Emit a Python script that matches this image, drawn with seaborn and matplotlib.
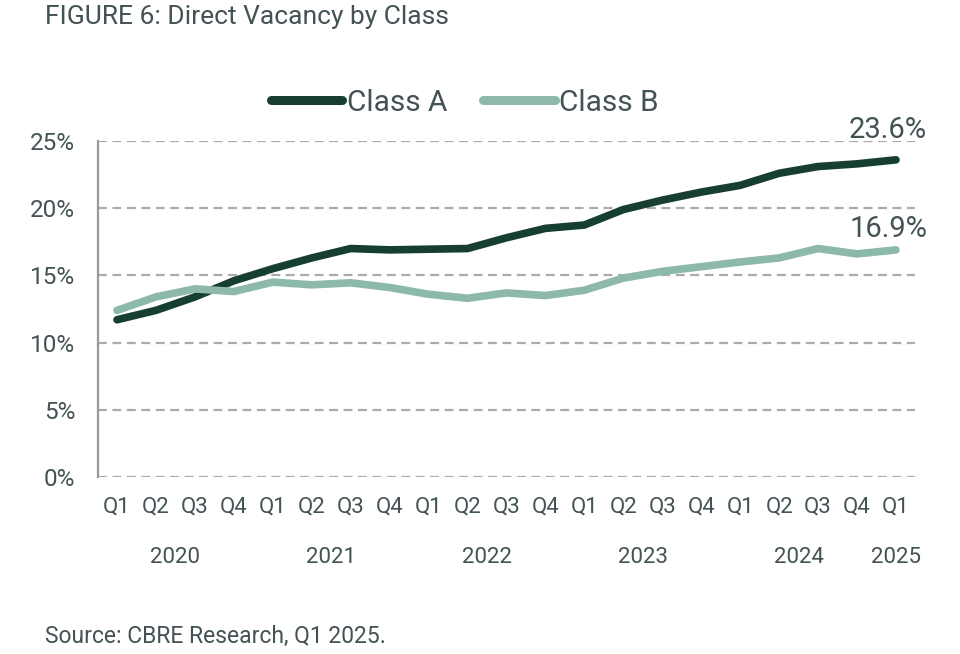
import matplotlib
matplotlib.use("Agg")
import matplotlib.pyplot as plt
import seaborn as sns
import pandas as pd
from matplotlib.lines import Line2D

quarters = ["Q1", "Q2", "Q3", "Q4"] * 5 + ["Q1"]
years = ["2020", "2021", "2022", "2023", "2024", "2025"]
year_pos = [1.5, 5.5, 9.5, 13.5, 17.5, 20]
class_a = [11.7, 12.4, 13.4, 14.6, 15.5, 16.3, 17.0, 16.9, 16.95, 17.0,
           17.8, 18.5, 18.75, 19.9, 20.6, 21.2, 21.7, 22.6, 23.1, 23.3, 23.6]
class_b = [12.4, 13.4, 14.0, 13.8, 14.5, 14.3, 14.45, 14.1, 13.6, 13.3,
           13.7, 13.5, 13.9, 14.8, 15.3, 15.65, 16.0, 16.3, 17.0, 16.6, 16.9]
series_names = ["Class A", "Class B"]
colors = ["#173f2f", "#8cb9a8"]
end_labels = ["23.6%", "16.9%"]

sns.set_theme(style="white")
plt.rcParams["font.family"] = ["Roboto", "DejaVu Sans"]
text_color = "#435254"

n = len(class_a)
df = pd.DataFrame({
    "idx": list(range(n)) * 2,
    "value": class_a + class_b,
    "series": [series_names[0]] * n + [series_names[1]] * n,
})

fig = plt.figure(figsize=(9.6, 6.54), dpi=100)
ax = fig.add_axes([0.1016, 0.2706, 0.852, 0.5138])

sns.lineplot(data=df, x="idx", y="value", hue="series", palette=colors,
             linewidth=5.5, ax=ax, legend=False, solid_capstyle="round")

ax.set_xlim(-0.5, n - 0.5)
ax.set_ylim(0, 25)
ax.set_yticks([0, 5, 10, 15, 20, 25])
ax.set_yticklabels([f"{v}%" for v in [0, 5, 10, 15, 20, 25]])
ax.set_xticks(range(n))
ax.set_xticklabels(quarters)
ax.set_xlabel("")
ax.set_ylabel("")

ax.grid(axis="y", color="#ababab", linestyle=(0, (4, 2.5)), linewidth=1.6)
ax.grid(axis="x", visible=False)
for s in ["top", "right", "bottom"]:
    ax.spines[s].set_visible(False)
ax.spines["left"].set_color("#9a9a9a")
ax.spines["left"].set_linewidth(1.6)
ax.tick_params(axis="y", length=7, width=1.6, color="#9a9a9a", labelsize=17.5,
               labelcolor=text_color, pad=9)
ax.tick_params(axis="x", length=0, labelsize=16, labelcolor=text_color, pad=14)

for yr, pos in zip(years, year_pos):
    ax.text(pos, -0.24, yr, transform=ax.get_xaxis_transform(), ha="center",
            va="center", fontsize=16, color=text_color)

ax.text(n - 1 + 0.8, class_a[-1] + 1.2, end_labels[0], ha="right", va="bottom",
        fontsize=21, color=text_color, clip_on=False)
ax.text(n - 1 + 0.8, class_b[-1] + 0.5, end_labels[1], ha="right", va="bottom",
        fontsize=21, color=text_color, clip_on=False)

handles = [Line2D([0], [0], color=c, linewidth=6.5, solid_capstyle="round") for c in colors]
leg = fig.legend(handles, series_names, loc="center", bbox_to_anchor=(0.484, 0.843),
                 ncol=2, frameon=False, fontsize=21.5, handlelength=2.4,
                 handletextpad=0.15, columnspacing=1.2)
for t in leg.get_texts():
    t.set_color(text_color)

fig.text(0.047, 0.974, "FIGURE 6: Direct Vacancy by Class", ha="left", va="center",
         fontsize=19, color=text_color)
fig.text(0.047, 0.027, "Source: CBRE Research, Q1 2025.", ha="left", va="center",
         fontsize=16.5, color=text_color)

fig.savefig("out.png", dpi=100)
